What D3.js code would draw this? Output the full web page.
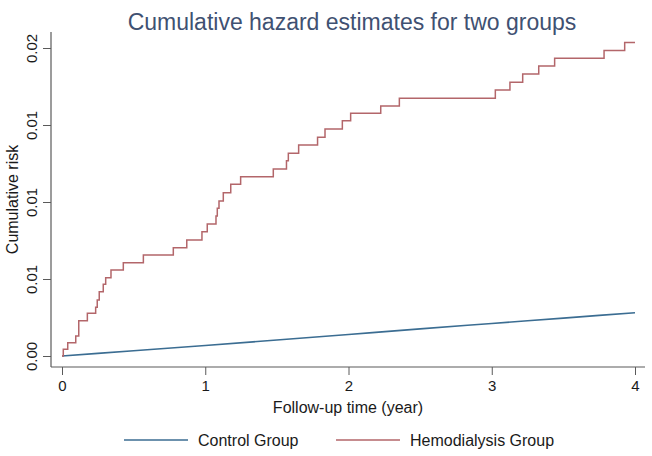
<!DOCTYPE html>
<html>
<head>
<meta charset="utf-8">
<script src="https://cdn.jsdelivr.net/npm/d3@7"></script>
<style>
  html, body { margin: 0; padding: 0; background: #ffffff; }
  svg text { font-family: "Liberation Sans", Arial, Helvetica, sans-serif; }
</style>
</head>
<body>
<svg id="chart" width="652" height="456"></svg>
<script>
// ---- data ----
const titleText = "Cumulative hazard estimates for two groups";
const xTitle = "Follow-up time (year)";
const yTitle = "Cumulative risk";
const seriesNames = ["Control Group", "Hemodialysis Group"];

const xTicks = [0, 1, 2, 3, 4];
const yTicks = [0, 0.005, 0.01, 0.015, 0.02];
const yTickLabels = ["0.00", "0.01", "0.01", "0.01", "0.02"];

// Control group: smooth, almost linear cumulative hazard
const controlTime = [0, 0.5, 1, 1.5, 2, 2.5, 3, 3.5, 4];
const controlRisk = [0, 0.00034, 0.00068, 0.00104, 0.00140, 0.00176, 0.00211, 0.00246, 0.00281];

// Hemodialysis group: step function (time of each jump, value after the jump)
const hdTime = [0, 0.009, 0.040, 0.096, 0.117, 0.177, 0.235, 0.246, 0.260, 0.288, 0.305,
  0.342, 0.428, 0.568, 0.777, 0.871, 0.977, 1.014, 1.075, 1.084, 1.096,
  1.126, 1.178, 1.247, 1.475, 1.567, 1.580, 1.652, 1.784, 1.836, 1.957,
  2.015, 2.225, 2.355, 3.025, 3.127, 3.216, 3.328, 3.439, 3.784, 3.928, 4.0];
const hdRisk = [0, 0.000435, 0.000864, 0.00130, 0.00229, 0.00277, 0.00316, 0.00364, 0.00418, 0.00466, 0.00508,
  0.00558, 0.00606, 0.00656, 0.00703, 0.00753, 0.00807, 0.00857, 0.00909, 0.00959, 0.01007,
  0.01060, 0.01115, 0.01164, 0.01214, 0.01268, 0.01316, 0.01370, 0.01420, 0.01474, 0.01528,
  0.01576, 0.01623, 0.01674, 0.01727, 0.01777, 0.01831, 0.01883, 0.01933, 0.01983, 0.02035, 0.02035];

// ---- layout ----
const svg = d3.select("#chart");
const colors = { control: "#3b6d92", hd: "#b3666a" };
const axisColor = "#5a5a5a";
const textColor = "#1a1a1a";

const x = d3.scaleLinear().domain([0, 4]).range([62, 635]);
const y = d3.scaleLinear().domain([0, 0.02]).range([356, 48]);
const plot = { left: 51, right: 645, top: 32, bottom: 367 };

// title
svg.append("text")
  .attr("x", 352).attr("y", 30)
  .attr("text-anchor", "middle")
  .attr("font-size", 23)
  .attr("fill", "#3f5172")
  .text(titleText);

// axes
const yAxis = svg.append("g")
  .attr("transform", `translate(${plot.left},0)`)
  .call(d3.axisLeft(y).tickValues(yTicks).tickFormat((d, i) => yTickLabels[i]).tickSize(8).tickSizeOuter(0));
yAxis.select(".domain").remove();
yAxis.selectAll(".tick line").attr("stroke", axisColor).attr("stroke-width", 1);
yAxis.selectAll(".tick text")
  .attr("x", null).attr("dy", null)
  .attr("text-anchor", "middle")
  .attr("transform", "translate(-14.3,0) rotate(-90)")
  .attr("font-size", 15)
  .attr("font-family", "'Liberation Sans', Arial, Helvetica, sans-serif")
  .attr("fill", textColor);

const xAxis = svg.append("g")
  .attr("transform", `translate(0,${plot.bottom})`)
  .call(d3.axisBottom(x).tickValues(xTicks).tickFormat(d3.format("d")).tickSize(8).tickSizeOuter(0));
xAxis.select(".domain").remove();
xAxis.selectAll(".tick line").attr("stroke", axisColor).attr("stroke-width", 1);
xAxis.selectAll(".tick text")
  .attr("y", 24).attr("dy", null)
  .attr("font-size", 15)
  .attr("font-family", "'Liberation Sans', Arial, Helvetica, sans-serif")
  .attr("fill", textColor);

svg.append("line")
  .attr("x1", plot.left).attr("x2", plot.left)
  .attr("y1", plot.top).attr("y2", plot.bottom)
  .attr("stroke", axisColor).attr("stroke-width", 1.2);
svg.append("line")
  .attr("x1", plot.left).attr("x2", plot.right)
  .attr("y1", plot.bottom).attr("y2", plot.bottom)
  .attr("stroke", axisColor).attr("stroke-width", 1.2);

// axis titles
svg.append("text")
  .attr("transform", `translate(18.3,${(plot.top + plot.bottom) / 2}) rotate(-90)`)
  .attr("text-anchor", "middle")
  .attr("font-size", 16)
  .attr("fill", textColor)
  .text(yTitle);
svg.append("text")
  .attr("x", (plot.left + plot.right) / 2).attr("y", 413)
  .attr("text-anchor", "middle")
  .attr("font-size", 16)
  .attr("fill", textColor)
  .text(xTitle);

// lines
const controlData = controlTime.map((t, i) => [t, controlRisk[i]]);
const hdData = hdTime.map((t, i) => [t, hdRisk[i]]);

svg.append("path")
  .datum(controlData)
  .attr("fill", "none")
  .attr("stroke", colors.control)
  .attr("stroke-width", 1.6)
  .attr("d", d3.line().x(d => x(d[0])).y(d => y(d[1])).curve(d3.curveMonotoneX));

svg.append("path")
  .datum(hdData)
  .attr("fill", "none")
  .attr("stroke", colors.hd)
  .attr("stroke-width", 1.5)
  .attr("d", d3.line().x(d => x(d[0])).y(d => y(d[1])).curve(d3.curveStepAfter));

// legend
const legendItems = [
  { name: seriesNames[0], color: colors.control, x0: 124, x1: 188, tx: 198 },
  { name: seriesNames[1], color: colors.hd, x0: 336, x1: 400, tx: 410 }
];
const lg = svg.append("g");
legendItems.forEach(it => {
  lg.append("line")
    .attr("x1", it.x0).attr("x2", it.x1)
    .attr("y1", 440).attr("y2", 440)
    .attr("stroke", it.color).attr("stroke-width", 1.4);
  lg.append("text")
    .attr("x", it.tx).attr("y", 446)
    .attr("font-size", 16)
    .attr("fill", textColor)
    .text(it.name);
});
</script>
</body>
</html>
